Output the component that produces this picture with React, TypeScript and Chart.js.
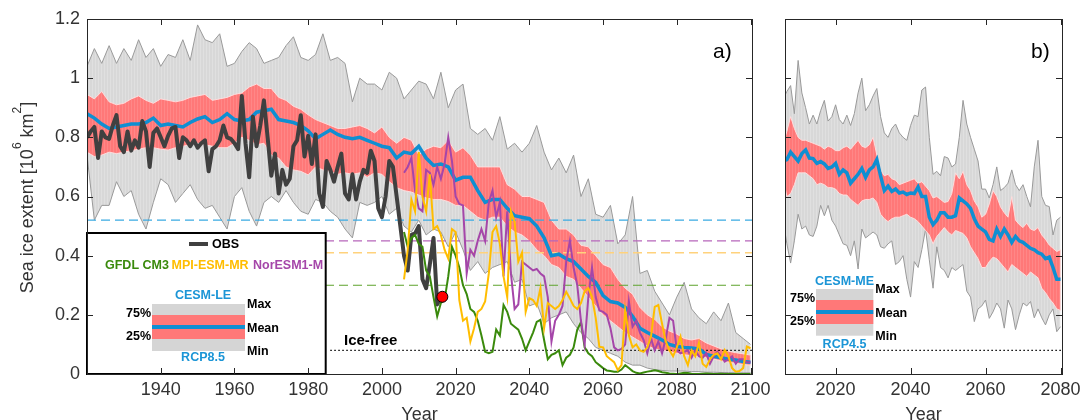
import React, { useEffect, useRef } from "react";
import { Chart, registerables } from "chart.js";
Chart.register(...registerables);

// ---------------- DATA ----------------
// Panel a: CESM-LE (RCP8.5), 2-year sampling
const leYears = [
  1920, 1922, 1924, 1926, 1928, 1930, 1932, 1934, 1936, 1938,
  1940, 1942, 1944, 1946, 1948, 1950, 1952, 1954, 1956, 1958,
  1960, 1962, 1964, 1966, 1968, 1970, 1972, 1974, 1976, 1978,
  1980, 1982, 1984, 1986, 1988, 1990, 1992, 1994, 1996, 1998,
  2000, 2002, 2004, 2006, 2008, 2010, 2012, 2014, 2016, 2018,
  2020, 2022, 2024, 2026, 2028, 2030, 2032, 2034, 2036, 2038,
  2040, 2042, 2044, 2046, 2048, 2050, 2052, 2054, 2056, 2058,
  2060, 2062, 2064, 2066, 2068, 2070, 2072, 2074, 2076, 2078,
  2080, 2082, 2084, 2086, 2088, 2090, 2092, 2094, 2096, 2098, 2100,
];
const leMax = [
  1.04, 1.10, 1.05, 1.11, 1.05, 1.10, 1.06, 1.13, 1.07, 1.10,
  1.04, 1.08, 1.07, 1.13, 1.06, 1.18, 1.13, 1.12, 1.15, 1.04,
  1.05, 1.09, 1.12, 1.10, 1.05, 1.06, 1.07, 1.11, 1.14, 1.07,
  1.06, 1.08, 1.15, 1.06, 1.07, 1.05, 0.92, 1.00, 0.98, 0.98,
  0.96, 1.02, 1.00, 0.93, 0.96, 0.99, 0.98, 0.93, 1.02, 0.90,
  0.96, 0.98, 0.83, 0.81, 0.83, 0.79, 0.87, 0.76, 0.78, 0.75,
  0.78, 0.84, 0.75, 0.69, 0.73, 0.68, 0.74, 0.60, 0.66, 0.54,
  0.53, 0.57, 0.44, 0.47, 0.60, 0.34, 0.35, 0.28, 0.24, 0.20,
  0.26, 0.31, 0.22, 0.19, 0.17, 0.21, 0.18, 0.24, 0.14, 0.12, 0.10,
];
const leP75 = [
  0.945, 0.93, 0.955, 0.92, 0.91, 0.915, 0.93, 0.94, 0.925, 0.915,
  0.93, 0.925, 0.92, 0.925, 0.935, 0.94, 0.945, 0.925, 0.93, 0.935,
  0.945, 0.95, 0.97, 0.98, 0.965, 0.965, 0.935, 0.925, 0.905, 0.895,
  0.876, 0.86, 0.85, 0.84, 0.83, 0.83, 0.835, 0.84, 0.83, 0.815,
  0.835, 0.80, 0.78, 0.80, 0.79, 0.74, 0.76, 0.77, 0.765, 0.79,
  0.75, 0.765, 0.74, 0.70, 0.70, 0.70, 0.70, 0.64, 0.625, 0.60,
  0.60, 0.59, 0.58, 0.52, 0.49, 0.49, 0.47, 0.435, 0.43, 0.40,
  0.37, 0.36, 0.32, 0.29, 0.27, 0.225, 0.20, 0.185, 0.16, 0.145,
  0.135, 0.12, 0.115, 0.12, 0.105, 0.095, 0.085, 0.077, 0.072, 0.068, 0.064,
];
const leMean = [
  0.88, 0.865, 0.845, 0.83, 0.835, 0.84, 0.845, 0.845, 0.85, 0.865,
  0.84, 0.845, 0.84, 0.835, 0.85, 0.862, 0.87, 0.85, 0.86, 0.88,
  0.86, 0.855, 0.86, 0.885, 0.89, 0.895, 0.86, 0.855, 0.85, 0.84,
  0.822, 0.795, 0.81, 0.825, 0.81, 0.80, 0.795, 0.80, 0.79, 0.78,
  0.77, 0.765, 0.73, 0.75, 0.745, 0.77, 0.73, 0.705, 0.71, 0.70,
  0.655, 0.665, 0.665, 0.62, 0.58, 0.59, 0.59, 0.56, 0.535, 0.53,
  0.525, 0.50, 0.46, 0.40, 0.405, 0.39, 0.38, 0.355, 0.33, 0.31,
  0.265, 0.245, 0.24, 0.225, 0.195, 0.155, 0.14, 0.128, 0.115, 0.10,
  0.093, 0.09, 0.088, 0.085, 0.066, 0.06, 0.055, 0.05, 0.047, 0.042, 0.04,
];
const leP25 = [
  0.75, 0.735, 0.74, 0.75, 0.745, 0.75, 0.755, 0.76, 0.765, 0.765,
  0.76, 0.757, 0.765, 0.77, 0.775, 0.78, 0.775, 0.77, 0.765, 0.765,
  0.78, 0.80, 0.79, 0.775, 0.78, 0.74, 0.73, 0.70, 0.69, 0.685,
  0.673, 0.70, 0.69, 0.685, 0.675, 0.68, 0.675, 0.68, 0.665, 0.68,
  0.675, 0.65, 0.63, 0.62, 0.615, 0.605, 0.595, 0.59, 0.59, 0.583,
  0.57, 0.57, 0.55, 0.53, 0.52, 0.53, 0.53, 0.50, 0.48, 0.47,
  0.45, 0.42, 0.40, 0.37, 0.36, 0.33, 0.32, 0.29, 0.26, 0.23,
  0.20, 0.18, 0.16, 0.14, 0.125, 0.11, 0.095, 0.085, 0.08, 0.076,
  0.07, 0.065, 0.062, 0.06, 0.055, 0.05, 0.045, 0.04, 0.036, 0.032, 0.03,
];
const leMin = [
  0.74, 0.52, 0.57, 0.57, 0.65, 0.60, 0.62, 0.54, 0.49, 0.58,
  0.66, 0.64, 0.58, 0.61, 0.64, 0.59, 0.56, 0.57, 0.53, 0.49,
  0.60, 0.63, 0.55, 0.50, 0.58, 0.60, 0.58, 0.62, 0.58, 0.55,
  0.54, 0.59, 0.58, 0.55, 0.53, 0.49, 0.46, 0.58, 0.57, 0.58,
  0.60, 0.54, 0.56, 0.50, 0.48, 0.52, 0.47, 0.49, 0.48, 0.43,
  0.48, 0.42, 0.35, 0.38, 0.34, 0.36, 0.37, 0.38, 0.31, 0.32,
  0.23, 0.24, 0.17, 0.19, 0.20, 0.21, 0.17, 0.14, 0.12, 0.09,
  0.08, 0.07, 0.06, 0.04, 0.03, 0.03, 0.02, 0.015, 0.012, 0.01,
  0.01, 0.01, 0.008, 0.008, 0.006, 0.006, 0.005, 0.005, 0.004, 0.004, 0.004,
];

// Observations (annual)
const obsYears = [
  1920, 1921, 1922, 1923, 1924, 1925, 1926, 1927, 1928, 1929,
  1930, 1931, 1932, 1933, 1934, 1935, 1936, 1937, 1938, 1939,
  1940, 1941, 1942, 1943, 1944, 1945, 1946, 1947, 1948, 1949,
  1950, 1951, 1952, 1953, 1954, 1955, 1956, 1957, 1958, 1959,
  1960, 1961, 1962, 1963, 1964, 1965, 1966, 1967, 1968, 1969,
  1970, 1971, 1972, 1973, 1974, 1975, 1976, 1977, 1978, 1979,
  1980, 1981, 1982, 1983, 1984, 1985, 1986, 1987, 1988, 1989,
  1990, 1991, 1992, 1993, 1994, 1995, 1996, 1997, 1998, 1999,
  2000, 2001, 2002, 2003, 2004, 2005, 2006, 2007, 2008, 2009,
  2010, 2011, 2012, 2013, 2014, 2015, 2016,
];
const obsValues = [
  0.80, 0.82, 0.835, 0.73, 0.82, 0.80, 0.795, 0.84, 0.875, 0.77,
  0.75, 0.82, 0.755, 0.79, 0.765, 0.855, 0.82, 0.70, 0.815, 0.83,
  0.80, 0.77, 0.805, 0.83, 0.835, 0.73, 0.80, 0.79, 0.77, 0.79,
  0.765, 0.78, 0.79, 0.685, 0.76, 0.77, 0.79, 0.84, 0.80, 0.795,
  0.78, 0.76, 0.94, 0.78, 0.665, 0.87, 0.77, 0.84, 0.925, 0.80,
  0.67, 0.745, 0.61, 0.69, 0.64, 0.66, 0.77, 0.79, 0.875, 0.735,
  0.805, 0.71, 0.81, 0.61, 0.565, 0.72, 0.69, 0.65, 0.70, 0.745,
  0.61, 0.59, 0.675, 0.59, 0.65, 0.69, 0.68, 0.755, 0.72, 0.56,
  0.53, 0.60, 0.72, 0.70, 0.60, 0.50, 0.40, 0.35, 0.47, 0.475,
  0.50, 0.32, 0.29, 0.37, 0.46, 0.235, 0.26,
];
const obsLatestYear = [2016.4];
const obsLatestValue = [0.261];

// Individual models (annual, 2006-2100)
const modelYears = [
  2006, 2007, 2008, 2009, 2010, 2011, 2012, 2013, 2014, 2015,
  2016, 2017, 2018, 2019, 2020, 2021, 2022, 2023, 2024, 2025,
  2026, 2027, 2028, 2029, 2030, 2031, 2032, 2033, 2034, 2035,
  2036, 2037, 2038, 2039, 2040, 2041, 2042, 2043, 2044, 2045,
  2046, 2047, 2048, 2049, 2050, 2051, 2052, 2053, 2054, 2055,
  2056, 2057, 2058, 2059, 2060, 2061, 2062, 2063, 2064, 2065,
  2066, 2067, 2068, 2069, 2070, 2071, 2072, 2073, 2074, 2075,
  2076, 2077, 2078, 2079, 2080, 2081, 2082, 2083, 2084, 2085,
  2086, 2087, 2088, 2089, 2090, 2091, 2092, 2093, 2094, 2095,
  2096, 2097, 2098, 2099, 2100,
];
const gfdlCM3 = [
  0.48, 0.43, 0.46, 0.47, 0.44, 0.43, 0.35, 0.33, 0.26, 0.195,
  0.24, 0.25, 0.33, 0.43, 0.40, 0.36, 0.30, 0.27, 0.22, 0.21,
  0.18, 0.13, 0.075, 0.07, 0.075, 0.15, 0.13, 0.233, 0.21, 0.17,
  0.16, 0.15, 0.12, 0.08, 0.11, 0.14, 0.176, 0.183, 0.115, 0.05,
  0.065, 0.07, 0.08, 0.03, 0.055, 0.065, 0.09, 0.15, 0.175, 0.09,
  0.07, 0.06, 0.04, 0.03, 0.02, 0.012, 0.01, 0.008, 0.008, 0.015,
  0.03, 0.02, 0.01, 0.004, 0.002, 0.005, 0.008, 0.01, 0.013, 0.01,
  0.006, 0.004, 0.002, 0.001, 0.0, 0.002, 0.004, 0.003, 0.001, 0.0,
  0.0, 0.001, 0.002, 0.001, 0.0, 0.0, 0.001, 0.0, 0.0, 0.0,
  0.0, 0.0, 0.0, 0.0, 0.0,
];
const mpiESMMR = [
  0.32, 0.42, 0.59, 0.55, 0.75, 0.60, 0.55, 0.675, 0.49, 0.50,
  0.47, 0.42, 0.39, 0.49, 0.48, 0.25, 0.18, 0.19, 0.11, 0.155,
  0.21, 0.22, 0.245, 0.34, 0.48, 0.50, 0.44, 0.33, 0.26, 0.55,
  0.515, 0.38, 0.41, 0.21, 0.256, 0.25, 0.23, 0.29, 0.155, 0.24,
  0.23, 0.22, 0.23, 0.25, 0.278, 0.255, 0.23, 0.22, 0.24, 0.28,
  0.29, 0.26, 0.19, 0.092, 0.09, 0.06, 0.05, 0.04, 0.013, 0.03,
  0.216, 0.13, 0.09, 0.10, 0.08, 0.075, 0.09, 0.126, 0.227, 0.233,
  0.17, 0.11, 0.08, 0.06, 0.09, 0.126, 0.06, 0.03, 0.08, 0.06,
  0.105, 0.035, 0.024, 0.05, 0.065, 0.07, 0.05, 0.081, 0.06, 0.02,
  0.008, 0.01, 0.02, 0.093, 0.087,
];
const norESM1M = [
  0.68, 0.70, 0.73, 0.62, 0.56, 0.55, 0.69, 0.68, 0.64, 0.70,
  0.66, 0.71, 0.80, 0.72, 0.60, 0.575, 0.57, 0.34, 0.42, 0.40,
  0.45, 0.49, 0.45, 0.58, 0.62, 0.53, 0.58, 0.33, 0.55, 0.34,
  0.22, 0.235, 0.38, 0.37, 0.36, 0.35, 0.355, 0.34, 0.33, 0.26,
  0.11, 0.18, 0.20, 0.23, 0.38, 0.45, 0.36, 0.30, 0.18, 0.10,
  0.26, 0.36, 0.26, 0.215, 0.21, 0.20, 0.155, 0.09, 0.08, 0.085,
  0.10, 0.245, 0.16, 0.18, 0.14, 0.115, 0.07, 0.12, 0.08, 0.11,
  0.07, 0.12, 0.19, 0.18, 0.08, 0.07, 0.075, 0.08, 0.055, 0.08,
  0.06, 0.055, 0.07, 0.035, 0.06, 0.075, 0.06, 0.042, 0.05, 0.06,
  0.035, 0.05, 0.05, 0.04, 0.04,
];

// Threshold lines (10^6 km^2)
const thrCESM = 0.52;
const thrNorESM = 0.45;
const thrMPI = 0.41;
const thrGFDL = 0.30;
const iceFree = 0.08;

// Panel b: CESM-ME (RCP4.5), annual
const meYears = [
  2006, 2007, 2008, 2009, 2010, 2011, 2012, 2013, 2014, 2015,
  2016, 2017, 2018, 2019, 2020, 2021, 2022, 2023, 2024, 2025,
  2026, 2027, 2028, 2029, 2030, 2031, 2032, 2033, 2034, 2035,
  2036, 2037, 2038, 2039, 2040, 2041, 2042, 2043, 2044, 2045,
  2046, 2047, 2048, 2049, 2050, 2051, 2052, 2053, 2054, 2055,
  2056, 2057, 2058, 2059, 2060, 2061, 2062, 2063, 2064, 2065,
  2066, 2067, 2068, 2069, 2070, 2071, 2072, 2073, 2074, 2075,
  2076, 2077, 2078, 2079, 2080,
];
const meMax = [
  0.93, 0.955, 0.975, 0.88, 1.06, 0.95, 0.90, 0.845, 0.875, 0.845,
  0.89, 0.925, 0.855, 0.87, 0.91, 0.86, 0.845, 0.875, 0.84, 0.88,
  0.95, 1.0, 0.89, 0.91, 0.94, 0.965, 0.87, 0.815, 0.80, 0.83,
  0.845, 0.815, 0.80, 0.79, 0.84, 0.875, 0.87, 0.96, 0.97, 0.80,
  0.675, 0.685, 0.67, 0.735, 0.73, 0.70, 0.71, 0.80, 0.925, 0.845,
  0.80, 0.76, 0.72, 0.625, 0.625, 0.595, 0.64, 0.70, 0.62, 0.63,
  0.645, 0.69, 0.64, 0.62, 0.64, 0.60, 0.565, 0.70, 0.79, 0.60,
  0.57, 0.566, 0.47, 0.52, 0.53,
];
const meP75 = [
  0.78, 0.82, 0.87, 0.83, 0.80, 0.79, 0.79, 0.785, 0.78, 0.775,
  0.77, 0.76, 0.77, 0.765, 0.755, 0.755, 0.765, 0.77, 0.76, 0.775,
  0.79, 0.77, 0.765, 0.775, 0.80, 0.74, 0.69, 0.67, 0.675, 0.66,
  0.655, 0.64, 0.645, 0.65, 0.655, 0.66, 0.645, 0.65, 0.635, 0.62,
  0.595, 0.60, 0.59, 0.58, 0.583, 0.61, 0.68, 0.66, 0.685, 0.64,
  0.62, 0.585, 0.565, 0.53, 0.54, 0.575, 0.62, 0.60, 0.565, 0.545,
  0.53, 0.60, 0.52, 0.505, 0.495, 0.51, 0.49, 0.485, 0.495, 0.47,
  0.455, 0.436, 0.425, 0.414, 0.42,
];
const meMean = [
  0.72, 0.725, 0.75, 0.735, 0.72, 0.745, 0.757, 0.73, 0.728, 0.712,
  0.718, 0.71, 0.695, 0.70, 0.712, 0.675, 0.69, 0.68, 0.645, 0.66,
  0.675, 0.695, 0.665, 0.69, 0.70, 0.725, 0.67, 0.62, 0.635, 0.617,
  0.625, 0.612, 0.615, 0.607, 0.612, 0.61, 0.632, 0.60, 0.60, 0.53,
  0.505, 0.52, 0.545, 0.545, 0.53, 0.53, 0.535, 0.595, 0.585, 0.575,
  0.56, 0.525, 0.50, 0.49, 0.48, 0.455, 0.45, 0.49, 0.465, 0.49,
  0.47, 0.445, 0.465, 0.45, 0.445, 0.435, 0.425, 0.42, 0.41, 0.405,
  0.39, 0.395, 0.36, 0.32, 0.32,
];
const meP25 = [
  0.66, 0.60, 0.61, 0.64, 0.68, 0.68, 0.68, 0.67, 0.66, 0.64,
  0.645, 0.64, 0.63, 0.63, 0.625, 0.61, 0.605, 0.605, 0.59, 0.58,
  0.57, 0.585, 0.59, 0.59, 0.595, 0.58, 0.54, 0.525, 0.515, 0.525,
  0.53, 0.53, 0.535, 0.54, 0.53, 0.525, 0.515, 0.50, 0.485, 0.47,
  0.44, 0.465, 0.48, 0.495, 0.48, 0.47, 0.485, 0.48, 0.475, 0.46,
  0.43, 0.41, 0.39, 0.36, 0.36, 0.38, 0.395, 0.39, 0.375, 0.36,
  0.345, 0.37, 0.36, 0.35, 0.34, 0.33, 0.345, 0.335, 0.325, 0.29,
  0.275, 0.255, 0.24, 0.22, 0.215,
];
const meMin = [
  0.52, 0.44, 0.375, 0.45, 0.54, 0.49, 0.50, 0.47, 0.465, 0.50,
  0.57, 0.535, 0.57, 0.52, 0.50, 0.47, 0.44, 0.435, 0.40, 0.45,
  0.355, 0.49, 0.46, 0.47, 0.48, 0.47, 0.43, 0.425, 0.44, 0.45,
  0.37, 0.38, 0.40, 0.32, 0.26, 0.38, 0.36, 0.42, 0.49, 0.386,
  0.29, 0.43, 0.36, 0.35, 0.325, 0.36, 0.35, 0.36, 0.37, 0.28,
  0.26, 0.177, 0.22, 0.23, 0.25, 0.188, 0.21, 0.24, 0.22, 0.155,
  0.25, 0.22, 0.15, 0.20, 0.24, 0.23, 0.245, 0.19, 0.22, 0.19,
  0.166, 0.20, 0.22, 0.143, 0.16,
];

// Axis ticks
const xTicksA = [1940, 1960, 1980, 2000, 2020, 2040, 2060, 2080, 2100];
const xTicksB = [2020, 2040, 2060, 2080];
const yTicks = [0, 0.2, 0.4, 0.6, 0.8, 1, 1.2];

// ---------------- STYLE ----------------
const FONT = '"Liberation Sans", Arial, Helvetica, sans-serif';
const C_MEAN = "#0f8fd2";
const C_OBS = "#404040";
const C_GFDL = "#3a8a0c";
const C_MPI = "#ffbd00";
const C_NOR = "#a546a9";
const C_LEG_BLUE = "#1b95d6";
const C_GREY_BOX = "#d5d5d5";
const C_RED_BOX = "#ff7878";

const pts = (xs: number[], ys: number[]) => xs.map((x, i) => ({ x, y: ys[i] }));
const hline = (x0: number, x1: number, v: number) => [{ x: x0, y: v }, { x: x1, y: v }];

function stripes(ctx: CanvasRenderingContext2D, base: string, light: string) {
  const cv = document.createElement("canvas");
  cv.width = 3;
  cv.height = 4;
  const g = cv.getContext("2d")!;
  g.fillStyle = base;
  g.fillRect(0, 0, 3, 4);
  g.fillStyle = light;
  g.fillRect(2, 0, 1, 4);
  return ctx.createPattern(cv, "repeat");
}

function text(ctx: any, s: string, x: number, y: number, font: string, color: string, align = "left", baseline = "middle") {
  ctx.font = font;
  ctx.fillStyle = color;
  ctx.textAlign = align;
  ctx.textBaseline = baseline;
  ctx.fillText(s, x, y);
}

function drawAxes(chart: any, xt: number[]) {
  const { ctx, chartArea } = chart;
  const { left, right, top, bottom } = chartArea;
  const xs = chart.scales.x;
  const ys = chart.scales.y;
  ctx.save();
  ctx.strokeStyle = "#262626";
  ctx.lineWidth = 1;
  ctx.beginPath();
  for (const v of xt) {
    const px = Math.round(xs.getPixelForValue(v)) + 0.5;
    ctx.moveTo(px, bottom);
    ctx.lineTo(px, bottom - 6);
    ctx.moveTo(px, top);
    ctx.lineTo(px, top + 6);
  }
  for (const v of yTicks) {
    const py = Math.round(ys.getPixelForValue(v)) + 0.5;
    ctx.moveTo(left, py);
    ctx.lineTo(left + 6, py);
    ctx.moveTo(right, py);
    ctx.lineTo(right - 6, py);
  }
  ctx.stroke();
  ctx.strokeRect(Math.round(left) + 0.5, Math.round(top) + 0.5, Math.round(right - left), Math.round(bottom - top));
  ctx.restore();
}

function drawMiniLegend(ctx: any, o: any) {
  const B = `bold 12.5px ${FONT}`;
  text(ctx, o.title, o.cx, o.yTitle, B, C_LEG_BLUE, "center");
  ctx.fillStyle = C_GREY_BOX;
  ctx.fillRect(o.x0, o.g0, o.x1 - o.x0, o.g1 - o.g0);
  ctx.fillStyle = C_RED_BOX;
  ctx.fillRect(o.x0, o.r0, o.x1 - o.x0, o.r1 - o.r0);
  ctx.fillStyle = C_MEAN;
  ctx.fillRect(o.x0, o.ym - 2, o.x1 - o.x0, 4);
  text(ctx, "75%", o.x0 - 1, o.r0 - 1, B, "#000", "right");
  text(ctx, "25%", o.x0 - 1, o.r1 - 2, B, "#000", "right");
  text(ctx, "Max", o.x1 + 2, o.g0 + 1, B, "#000", "left");
  text(ctx, "Mean", o.x1 + 2, o.ym + 1.5, B, "#000", "left");
  text(ctx, "Min", o.x1 + 2, o.g1 + 1, B, "#000", "left");
  text(ctx, o.rcp, o.cx, o.yRcp, B, C_LEG_BLUE, "center");
}

const decorA = {
  id: "decorA",
  afterDatasetsDraw(chart: any) {
    const { ctx, chartArea } = chart;
    const { left, bottom } = chartArea;
    ctx.save();
    const bx1 = 325.7;
    const by0 = 233;
    ctx.fillStyle = "#fff";
    ctx.fillRect(left, by0, bx1 - left, bottom - by0);
    ctx.strokeStyle = "#000";
    ctx.lineWidth = 2;
    ctx.strokeRect(left, by0, bx1 - left, bottom - by0);
    ctx.strokeStyle = C_OBS;
    ctx.lineWidth = 4;
    ctx.beginPath();
    ctx.moveTo(189, 244);
    ctx.lineTo(208, 244);
    ctx.stroke();
    const B = `bold 12.5px ${FONT}`;
    text(ctx, "OBS", 212, 244.5, B, "#000");
    text(ctx, "GFDL CM3", 105, 265.5, B, C_GFDL);
    text(ctx, "MPI-ESM-MR", 171.5, 265.5, B, C_MPI);
    text(ctx, "NorESM1-M", 253, 265.5, B, C_NOR);
    drawMiniLegend(ctx, {
      cx: 203, x0: 152, x1: 245, yTitle: 295.5, g0: 304, g1: 351, r0: 315, r1: 339, ym: 327,
      yRcp: 357.5, title: "CESM-LE", rcp: "RCP8.5",
    });
    text(ctx, "Ice-free", 344, 340.5, `bold 15px ${FONT}`, "#000");
    ctx.restore();
  },
  afterDraw(chart: any) {
    const { ctx, chartArea } = chart;
    const { left, right, top, bottom } = chartArea;
    drawAxes(chart, xTicksA);
    ctx.save();
    text(ctx, "a)", 713, 57.5, `21px ${FONT}`, "#000", "left", "alphabetic");
    text(ctx, "Year", (left + right) / 2, 420, `18px ${FONT}`, "#333", "center", "alphabetic");
    ctx.translate(33, (top + bottom) / 2 + 1);
    ctx.rotate(-Math.PI / 2);
    const big = `18px ${FONT}`;
    const small = `12px ${FONT}`;
    const parts: [string, string, number][] = [
      ["Sea ice extent [10", big, 0],
      ["6", small, -12],
      [" km", big, 0],
      ["2", small, -12],
      ["]", big, 0],
    ];
    let total = 0;
    for (const [s, f] of parts) {
      ctx.font = f;
      total += ctx.measureText(s).width;
    }
    let x = -total / 2;
    ctx.fillStyle = "#333";
    ctx.textAlign = "left";
    ctx.textBaseline = "alphabetic";
    for (const [s, f, dy] of parts) {
      ctx.font = f;
      ctx.fillText(s, x, dy);
      x += ctx.measureText(s).width;
    }
    ctx.restore();
  },
};

const decorB = {
  id: "decorB",
  afterDatasetsDraw(chart: any) {
    const { ctx } = chart;
    ctx.save();
    drawMiniLegend(ctx, {
      cx: 69.5, x0: 41, x1: 98.3, yTitle: 282, g0: 289, g1: 335.7, r0: 300, r1: 324, ym: 312,
      yRcp: 344.5, title: "CESM-ME", rcp: "RCP4.5",
    });
    ctx.restore();
  },
  afterDraw(chart: any) {
    const { ctx, chartArea } = chart;
    const { left, right } = chartArea;
    drawAxes(chart, xTicksB);
    ctx.save();
    text(ctx, "b)", 256, 57.5, `21px ${FONT}`, "#000", "left", "alphabetic");
    text(ctx, "Year", (left + right) / 2, 420, `18px ${FONT}`, "#333", "center", "alphabetic");
    ctx.restore();
  },
};

const lineBase = { pointRadius: 0, pointHoverRadius: 0, tension: 0, clip: 0, fill: false };

function scales(xmin: number, xmax: number, xt: number[], yWidth: number, showY: boolean) {
  return {
    x: {
      type: "linear",
      min: xmin,
      max: xmax,
      grid: { display: false, drawTicks: false },
      border: { display: false },
      ticks: {
        font: { family: FONT, size: 18 },
        color: "#333",
        padding: 5,
        maxRotation: 0,
        autoSkip: false,
        callback: (v: number) => String(Math.round(v)),
      },
      afterBuildTicks: (s: any) => {
        s.ticks = xt.map((v) => ({ value: v }));
      },
      afterFit: (s: any) => {
        s.height = 46;
        s.paddingLeft = 0;
        s.paddingRight = 0;
        s.paddingTop = 0;
        s.paddingBottom = 0;
      },
    },
    y: {
      min: 0,
      max: 1.2,
      grid: { display: false, drawTicks: false },
      border: { display: false },
      ticks: {
        display: showY,
        stepSize: 0.2,
        font: { family: FONT, size: 18 },
        color: "#333",
        padding: 7,
        callback: (v: number) => String(Math.round(v * 10) / 10),
      },
      afterFit: (s: any) => {
        s.width = yWidth;
        s.paddingTop = 0;
        s.paddingBottom = 0;
        s.paddingLeft = 0;
        s.paddingRight = 0;
      },
    },
  };
}

function bandSets(ctx: CanvasRenderingContext2D, xs: number[], mx: number[], p75: number[], p25: number[], mn: number[]) {
  const grey = stripes(ctx, "#d8d8d8", "#e0e0e0");
  const red = stripes(ctx, "#ff7878", "#ff8787");
  return [
    { ...lineBase, data: pts(xs, mx), borderColor: "#999999", borderWidth: 1, backgroundColor: grey, fill: "+1", order: 30 },
    { ...lineBase, data: pts(xs, mn), borderColor: "#999999", borderWidth: 1, order: 29 },
    { ...lineBase, data: pts(xs, p75), borderColor: "rgba(255,222,222,0.95)", borderWidth: 1, backgroundColor: red, fill: "+1", order: 28 },
    { ...lineBase, data: pts(xs, p25), borderColor: "rgba(255,222,222,0.95)", borderWidth: 1, order: 27 },
  ];
}

function configA(ctx: CanvasRenderingContext2D): any {
  return {
    type: "line",
    data: {
      datasets: [
        ...bandSets(ctx, leYears, leMax, leP75, leP25, leMin),
        { ...lineBase, data: hline(1920, 2101, thrCESM), borderColor: "#3aaae2", borderWidth: 1.2, borderDash: [9, 5], order: 20 },
        { ...lineBase, data: hline(1920, 2101, thrNorESM), borderColor: "#b767bb", borderWidth: 1.2, borderDash: [9, 5], order: 20 },
        { ...lineBase, data: hline(1920, 2101, thrMPI), borderColor: "#ffd27c", borderWidth: 1.4, borderDash: [9, 5], order: 20 },
        { ...lineBase, data: hline(1920, 2101, thrGFDL), borderColor: "#5ea22c", borderWidth: 1.2, borderDash: [9, 5], order: 20 },
        { ...lineBase, data: hline(1986, 2101, iceFree), borderColor: "#000", borderWidth: 1.2, borderDash: [1.5, 2.5], order: 20 },
        { ...lineBase, data: pts(leYears, leMean), borderColor: C_MEAN, borderWidth: 3.5, order: 10 },
        { ...lineBase, data: pts(obsYears, obsValues), borderColor: C_OBS, borderWidth: 4, borderJoinStyle: "round", order: 9 },
        { ...lineBase, data: pts(modelYears, gfdlCM3), borderColor: C_GFDL, borderWidth: 2, order: 8 },
        { ...lineBase, data: pts(modelYears, norESM1M), borderColor: C_NOR, borderWidth: 2, order: 7 },
        { ...lineBase, data: pts(modelYears, mpiESMMR), borderColor: C_MPI, borderWidth: 2, order: 6 },
        {
          ...lineBase,
          data: pts(obsLatestYear, obsLatestValue),
          showLine: false,
          pointRadius: 5.5,
          pointBackgroundColor: "#ff0000",
          pointBorderColor: "#000",
          pointBorderWidth: 1,
          order: 1,
        },
      ],
    },
    options: {
      animation: false,
      responsive: false,
      maintainAspectRatio: false,
      events: [],
      layout: { padding: { left: 0, right: 23, top: 19, bottom: 0 } },
      plugins: { legend: { display: false }, tooltip: { enabled: false } },
      scales: scales(1920, 2100.4, xTicksA, 87, true),
    },
    plugins: [decorA],
  };
}

function configB(ctx: CanvasRenderingContext2D): any {
  return {
    type: "line",
    data: {
      datasets: [
        ...bandSets(ctx, meYears, meMax, meP75, meP25, meMin),
        { ...lineBase, data: hline(2005, 2082, iceFree), borderColor: "#000", borderWidth: 1.2, borderDash: [1.5, 2.5], order: 20 },
        { ...lineBase, data: pts(meYears, meMean), borderColor: C_MEAN, borderWidth: 3.5, order: 10 },
      ],
    },
    options: {
      animation: false,
      responsive: false,
      maintainAspectRatio: false,
      events: [],
      layout: { padding: { left: 0, right: 21, top: 19, bottom: 0 } },
      plugins: { legend: { display: false }, tooltip: { enabled: false } },
      scales: scales(2006.5, 2080.4, xTicksB, 10, false),
    },
    plugins: [decorB],
  };
}

export default function App() {
  const refA = useRef<HTMLCanvasElement>(null);
  const refB = useRef<HTMLCanvasElement>(null);
  useEffect(() => {
    const ca = refA.current!;
    const cb = refB.current!;
    const chartA = new Chart(ca, configA(ca.getContext("2d")!));
    const chartB = new Chart(cb, configB(cb.getContext("2d")!));
    return () => {
      chartA.destroy();
      chartB.destroy();
    };
  }, []);
  return (
    <div style={{ position: "absolute", left: 0, top: 0, width: 1083, height: 420, background: "#fff", overflow: "hidden" }}>
      <canvas ref={refA} width={775} height={420} style={{ position: "absolute", left: 0, top: 0 }} />
      <canvas ref={refB} width={308} height={420} style={{ position: "absolute", left: 775, top: 0 }} />
    </div>
  );
}
